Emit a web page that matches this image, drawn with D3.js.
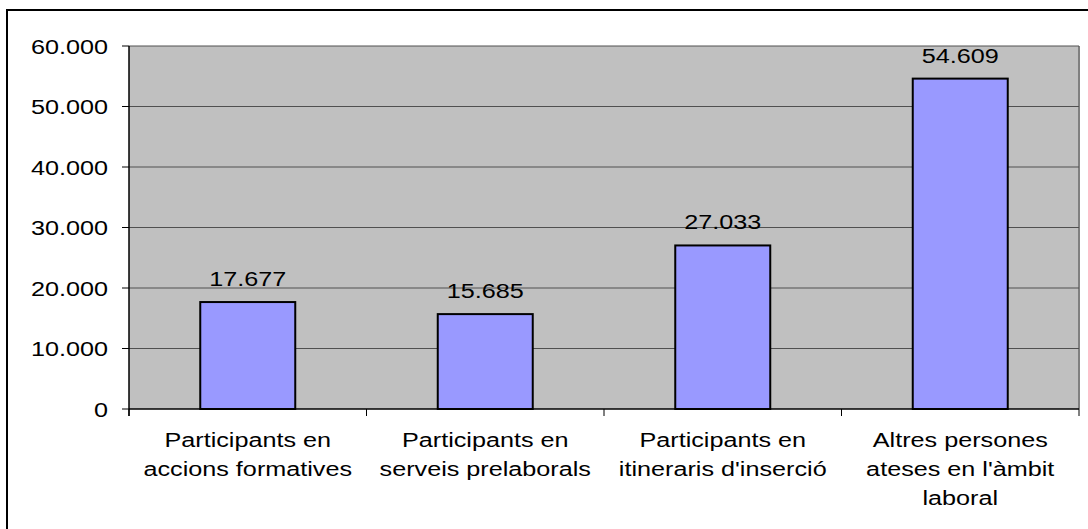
<!DOCTYPE html>
<meta charset="utf-8">
<head>
<script src="https://d3js.org/d3.v7.min.js"></script>
<style>
  body { margin: 0; background: #fff; }
  svg text { font-family: "Liberation Sans", Arial, sans-serif; font-size: 21px; fill: #000; }
</style>
</head>
<body>
<svg id="chart" width="1088" height="529"></svg>
<script>
// data
var categories = [
  ["Participants en", "accions formatives"],
  ["Participants en", "serveis prelaborals"],
  ["Participants en", "itineraris d'inserció"],
  ["Altres persones", "ateses en l'àmbit", "laboral"]
];
var values = [17677, 15685, 27033, 54609];
var yTicks = [0, 10000, 20000, 30000, 40000, 50000, 60000];

var svg = d3.select("#chart");
// note: "top" is taken by window.top, so use plot* names
var plotLeft = 129, plotRight = 1079, plotTop = 46, plotBottom = 409;
var sx = 1.2; // text looks stretched wide in the original

var fmt = function(d) {
  return d3.format(",")(d).replace(/,/g, ".");
};

// outer frame, runs past the right and bottom edges
svg.append("rect")
  .attr("x", 7).attr("y", 10)
  .attr("width", 1100).attr("height", 540)
  .attr("fill", "#fff").attr("stroke", "#000").attr("stroke-width", 2);

var x = d3.scaleBand()
  .domain(d3.range(categories.length))
  .range([plotLeft, plotRight])
  .paddingInner(0.6).paddingOuter(0.3);

var y = d3.scaleLinear().domain([0, 60000]).range([plotBottom, plotTop]);

// plot area
svg.append("rect")
  .attr("x", plotLeft).attr("y", plotTop)
  .attr("width", plotRight - plotLeft).attr("height", plotBottom - plotTop)
  .attr("fill", "#c0c0c0");

svg.append("line")
  .attr("x1", plotRight).attr("x2", plotRight)
  .attr("y1", plotTop).attr("y2", plotBottom)
  .attr("stroke", "#808080").attr("stroke-width", 2);

// gridlines
svg.selectAll("line.grid")
  .data(yTicks.filter(function(d) { return d > 0; }))
  .enter().append("line")
  .attr("class", "grid")
  .attr("x1", plotLeft).attr("x2", plotRight)
  .attr("y1", function(d) { return y(d); })
  .attr("y2", function(d) { return y(d); })
  .attr("stroke", "#505050").attr("stroke-width", 1);

// y axis
var yAxis = svg.append("g");
yAxis.append("line")
  .attr("x1", plotLeft).attr("x2", plotLeft)
  .attr("y1", plotTop).attr("y2", plotBottom + 7)
  .attr("stroke", "#000").attr("stroke-width", 1.5);
yAxis.selectAll("line.tick")
  .data(yTicks).enter().append("line")
  .attr("class", "tick")
  .attr("x1", plotLeft - 7).attr("x2", plotLeft)
  .attr("y1", function(d) { return y(d); })
  .attr("y2", function(d) { return y(d); })
  .attr("stroke", "#000");
yAxis.selectAll("text")
  .data(yTicks).enter().append("text")
  .attr("text-anchor", "end")
  .attr("transform", function(d) {
    return "translate(" + (plotLeft - 21) + "," + (y(d) + 7.5) + ") scale(" + sx + ",1)";
  })
  .text(fmt);

// x axis
var step = (plotRight - plotLeft) / categories.length;
svg.append("line")
  .attr("x1", plotLeft).attr("x2", plotRight)
  .attr("y1", plotBottom).attr("y2", plotBottom)
  .attr("stroke", "#000").attr("stroke-width", 1.5);
svg.selectAll("line.xtick")
  .data(d3.range(categories.length + 1)).enter().append("line")
  .attr("class", "xtick")
  .attr("x1", function(i) { return plotLeft + i * step; })
  .attr("x2", function(i) { return plotLeft + i * step; })
  .attr("y1", plotBottom).attr("y2", plotBottom + 7)
  .attr("stroke", "#000");

// bars
svg.selectAll("rect.bar")
  .data(values).enter().append("rect")
  .attr("class", "bar")
  .attr("x", function(d, i) { return x(i); })
  .attr("y", function(d) { return y(d); })
  .attr("width", x.bandwidth())
  .attr("height", function(d) { return plotBottom - y(d); })
  .attr("fill", "#9999ff")
  .attr("stroke", "#000").attr("stroke-width", 2);

// value labels
svg.selectAll("text.val")
  .data(values).enter().append("text")
  .attr("class", "val")
  .attr("text-anchor", "middle")
  .attr("transform", function(d, i) {
    return "translate(" + (x(i) + x.bandwidth() / 2) + "," + (y(d) - 16) + ") scale(" + sx + ",1)";
  })
  .text(fmt);

// category labels
categories.forEach(function(lines, i) {
  var cx = x(i) + x.bandwidth() / 2;
  lines.forEach(function(s, j) {
    svg.append("text")
      .attr("text-anchor", "middle")
      .attr("transform", "translate(" + cx + "," + (447 + j * 29) + ") scale(" + sx + ",1)")
      .text(s);
  });
});
</script>
</body>
